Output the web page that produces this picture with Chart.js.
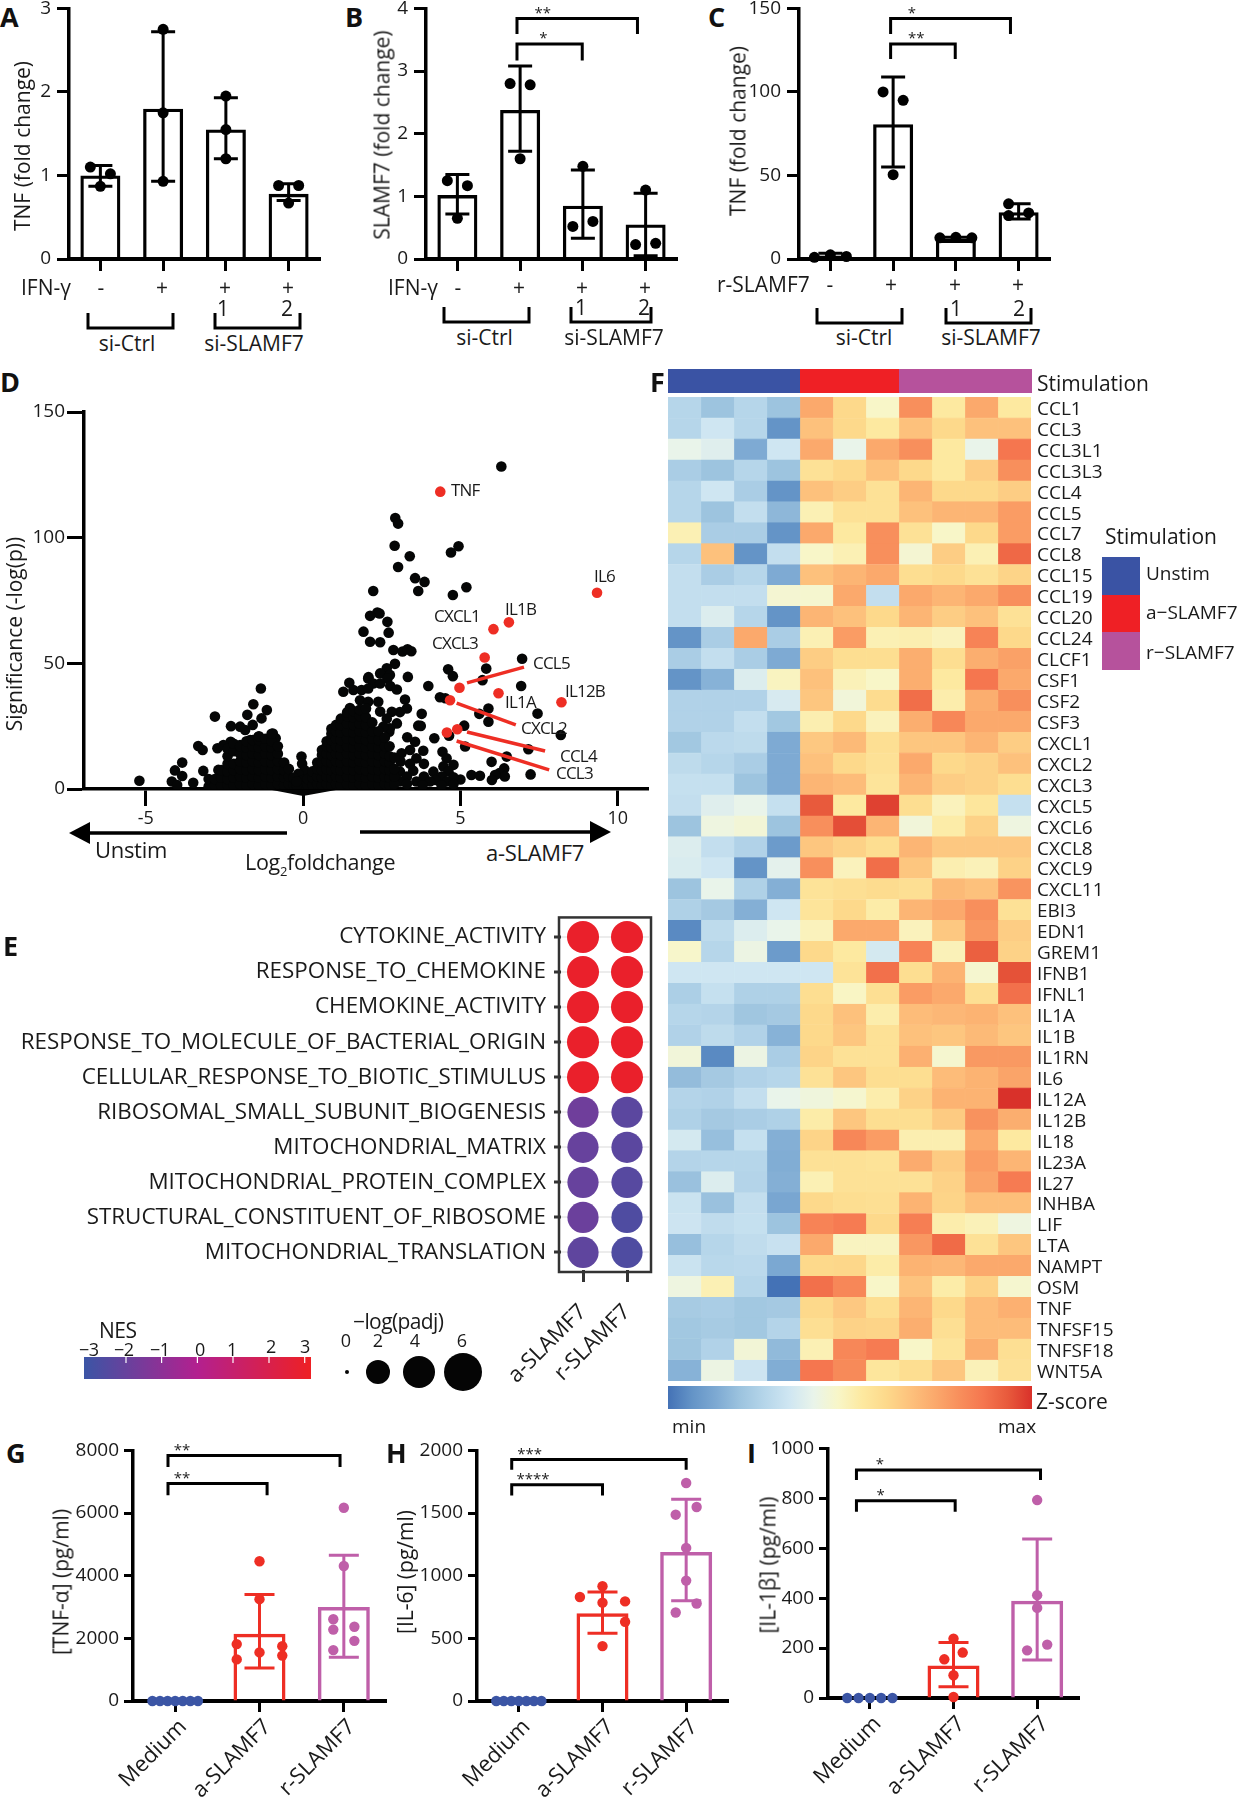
<!DOCTYPE html>
<html><head><meta charset="utf-8">
<script src="https://cdn.jsdelivr.net/npm/chart.js@4"></script>
<style>
html,body{margin:0;padding:0;background:#fff}
#page{position:relative;width:1239px;height:1800px;overflow:hidden;background:#fff}
canvas{position:absolute;display:block}
.t{position:absolute;white-space:nowrap;line-height:1;color:#1a1a1a}
svg{position:absolute;left:0;top:0}
</style></head><body><div id="page"><svg id="deco" width="1239" height="1800"></svg></div>
<script>
/* ---------- panel A ---------- */
const aLabels=['-','+','+1','+2'];
const aBars=[1.0,1.8,1.55,0.78];
const aLow=[0.87,0.93,1.2,0.7];
const aHigh=[1.12,2.72,1.93,0.9];
const aDotX=[-.16,.16,0,1,1,1,2,2,2,2.84,3.16,3];
const aDotY=[1.1,1.02,.87,2.75,1.75,.93,1.95,1.55,1.2,.88,.88,.67];
/* ---------- panel B ---------- */
const bBars=[1.02,2.38,0.85,0.55];
const bLow=[.72,1.72,.33,.05];
const bHigh=[1.35,3.08,1.42,1.05];
const bDotX=[-.16,.16,0,.84,1.16,1,2,1.84,2.16,3,2.84,3.16];
const bDotY=[1.25,1.17,.65,2.8,2.78,1.6,1.48,.52,.6,1.1,.23,.25];
/* ---------- panel C ---------- */
const cBars=[2,80.7,11.5,28];
const cLow=[1,55,11,24];
const cHigh=[3.5,109,13,33];
const cDotX=[-.255,0,.255,.84,1.16,1,1.745,2,2.255,2.84,2.84,3.16];
const cDotY=[1,2.5,1.5,100,95,50.5,12.7,13,12.7,33,26,27.6];
/* ---------- panels G H I ---------- */
const stimLabels=['Medium','a-SLAMF7','r-SLAMF7'];
const gBars=[0,2150,3000];
const gLow=[0,1050,1400];
const gHigh=[0,3400,4650];
const gDotX=[-.27,-.18,-.09,0,.09,.18,.27, 1,1,.73,1.27,1,.73,1.27, 2,2,1.875,1.875,2.125,2.125,1.875];
const gDotY=[0,0,0,0,0,0,0, 4460,3250,1816,1750,1551,1328,1450, 6170,4310,2610,2280,2370,1920,1625];
const hBars=[0,700,1190];
const hLow=[0,540,800];
const hHigh=[0,870,1610];
const hDotX=[-.27,-.18,-.09,0,.09,.18,.27, 1,.73,1.27,1,1.27,1, 2,2.125,1.875,2,2,2.125,1.875];
const hDotY=[0,0,0,0,0,0,0, 916,830,795,785,632,438, 1740,1548,1487,1222,961,778,706];
const iBars=[0,130,390];
const iLow=[0,45,152];
const iHigh=[0,222,637];
const iDotX=[-.27,-.135,0,.135,.27, 1,1.11,.89,1,1, 2,2,2,2.12,1.88];
const iDotY=[0,0,0,0,0, 238,182,155,91,4, 793,412,361,214,191];
/* ---------- panel D ---------- */
const dTicks=[-5,0,5,10];
const dSparse=[[6.3,128.3],[2.93,107.8],[3.02,105.6],[2.91,96.8],[3.39,92.6],[4.94,96.6],[4.7,94.1],[3.02,88.3],[3.56,83.9],[3.86,82.4],[3.66,78.8],[2.23,78.8],[5.19,80.3],[4.76,77.2],[2.36,70.2],[2.43,69.8],[2.13,68.9],[2.68,66.5],[1.92,62.6],[2.72,62.2],[2.13,58.6],[2.45,58.4],[2.87,55.3],[3.16,54.7],[3.32,55.6],[3.44,54.8],[6.96,51.8],[5.82,47.9],[2.92,49.8],[4.61,47.6],[4.76,44.9],[3.33,44.6],[2.66,48],[2.45,46],[2.76,45.4],[2.08,44.5],[1.47,42.3],[3.98,41],[5.7,43.3],[6.93,41],[4.35,36.5],[4.52,36.1],[5.89,32],[5.6,29.9],[5.89,26.8],[7.45,30],[5.12,25.2],[4.64,21.2],[4.17,20.2],[5.15,16.9],[4.43,14.8],[7.16,15.8],[6.47,12.9],[5.99,10.8],[6.39,8.2],[6.24,6.3],[6.41,5],[6.1,5.6],[6,3.6],[7.23,5.8],[5.35,5.6],[5.62,5.3],[5,3.8],[3.77,29.9],[3.66,25.2],[3.74,25.1],[8.19,21.5],
[2.74,22.8],[3.31,20.6],[3.56,18.8],[3.82,15.2],[3.13,14.2],[3.4,15.5],[3.6,12.2],[3.84,10],[3.4,10],[3.1,10.9],[3.5,7.3],[3.08,6.9],[4.14,6.9],[3.84,5],[3.3,5],[4.56,12.2],[4.78,9.6],[4.46,9],[4.62,7],[4.4,5],[4.78,4.7],[4.2,3.6],[4.57,3],[4.03,3],[3.6,3],[3.08,3],[3.3,2],[3.8,1.5],[4.4,1.5],[4.78,2],
[1.28,38.7],[1.6,39.4],[1.86,39.4],[2.07,44],[2.23,42],[2.68,44],[2.77,41],[2.45,42],[2.07,40],[2.98,39.6],[3.24,35.6],[3.3,32],[3.08,30.6],[2.98,26.1],[2.76,24.2],[2.39,34.7],[2.45,30.8],[1.49,32.2],[1.81,35.3],[2.07,34.7],[2.82,30.7],[2.66,28],[2.55,24.8],
[-5.2,3.3],[-4.17,3],[-4.07,7.4],[-3.84,10.5],[-3.84,5.2],[-3.49,2.5],[-4,1.6],[-3.33,17.1],[-3.19,15.5],[-3.17,7.2],[-2.8,28.8],[-2.72,16.2],[-2.69,7.6],[-2.29,25],[-2,24.8],[-1.84,23.5],[-1.77,29.5],[-1.6,25.5],[-1.58,33.7],[-1.32,28.1],[-1.15,31.4],[-1.34,40],[-.96,22.1],[-.87,20.2],[-1.42,20.8],[-1.68,19.5],[-2.3,18.8],[-2.53,17.5],[-2,17.5],
[-.05,12.9],[-.03,10],[.05,7.5],[-.15,6],[0,3.6],[.02,1.5]];
const dDenseColumns=[
[-3,1,4],[-2.8,1.5,4],[-2.6,1.5,4.5,7.5],[-2.4,1.5,4,7,10,13,16],[-2.2,1.5,4.5,7.5,10,15,18],[-2,2,5,8,11,14,17],[-1.8,1.5,4.5,7.5,10.5,13.5,16.5,19],[-1.6,2,5,8,11,14,17,19.5],[-1.4,1.5,4.5,7.5,10.5,13.5,16.5,19.5,21],[-1.2,2,5,8,11,14,17,20],[-1,1.5,4.5,7.5,10.5,13.5,16.5,19,22],[-.8,2,5,8,11,14,17],[-.6,1.5,4.5,7.5,10.5],[-.45,2,5,8],[-.3,1.5,4.5],[-.2,1.5,3],
[.15,1.5,4],[.3,1.5,4.5,7],[.45,2,5,8,10.5],[.6,1.5,4.5,7.5,10.5,13.5,15.5],[.75,2,5,8,11,14,17,19],[.9,1.5,4.5,7.5,10.5,13.5,16.5,19.5,22,24],[1.05,2,5,8,11,14,17,20,23,25.5],[1.2,1.5,4.5,7.5,10.5,13.5,16.5,19.5,22.5,25.5,28],[1.4,2,5,8,11,14,17,20,23,26,29,30.5],[1.6,1.5,4.5,7.5,10.5,13.5,16.5,19.5,22.5,25.5,28.5,31],[1.8,2,5,8,11,14,17,20,23,26,29,31.5],[2,1.5,4.5,7.5,10.5,13.5,16.5,19.5,22.5,25.5,28.5,32],[2.2,2,5,8,11,14,17,20,23,26.5],[2.4,1.5,4.5,7.5,10.5,13.5,16.5,19.5,23],[2.6,2,5,8,11,14,17,20.5],[2.75,1.5,4.5,7.5,10.5,13,17],[2.9,2,5,8,12.5]];
const dRed=[[4.36,118.3],[9.34,78.1],[6.54,66.3],[6.05,63.6],[5.77,52.3],[4.97,40.3],[6.21,38.1],[8.21,34.5],[4.67,35.3],[4.9,23.8],[4.57,22.5]];
const leaderCCL5=[[5.21,42.2],[7.02,48.5]];
const leaderCXCL2=[[4.88,34.2],[6.76,25.5]];
const leaderCCL4=[[5.21,22.7],[7.69,15.1]];
const leaderCCL3=[[4.88,19.1],[7.82,7.6]];
/* ---------- panel E ---------- */
const pathways=['CYTOKINE_ACTIVITY','RESPONSE_TO_CHEMOKINE','CHEMOKINE_ACTIVITY','RESPONSE_TO_MOLECULE_OF_BACTERIAL_ORIGIN','CELLULAR_RESPONSE_TO_BIOTIC_STIMULUS','RIBOSOMAL_SMALL_SUBUNIT_BIOGENESIS','MITOCHONDRIAL_MATRIX','MITOCHONDRIAL_PROTEIN_COMPLEX','STRUCTURAL_CONSTITUENT_OF_RIBOSOME','MITOCHONDRIAL_TRANSLATION'];
const eGroups=['a-SLAMF7','r-SLAMF7'];
const nesA=[2.8,2.8,2.8,2.8,2.8,-1.7,-1.9,-1.9,-1.8,-2.1];
const nesR=[2.8,2.8,2.8,2.8,2.8,-2.2,-2.2,-2.3,-2.5,-2.5];
const padjA=[4,4,4,4,4,3.9,3.9,3.9,3.9,3.9];
const padjR=[4,4,4,4,4,3.9,3.9,3.9,3.9,3.9];
/* ---------- panel F ---------- */
const genes=['CCL1','CCL3','CCL3L1','CCL3L3','CCL4','CCL5','CCL7','CCL8','CCL15','CCL19','CCL20','CCL24','CLCF1','CSF1','CSF2','CSF3','CXCL1','CXCL2','CXCL3','CXCL5','CXCL6','CXCL8','CXCL9','CXCL11','EBI3','EDN1','GREM1','IFNB1','IFNL1','IL1A','IL1B','IL1RN','IL6','IL12A','IL12B','IL18','IL23A','IL27','INHBA','LIF','LTA','NAMPT','OSM','TNF','TNFSF15','TNFSF18','WNT5A'];
const heatZ=[
[4,3,4,3,11,9,7,12,8,11,8],
[4,5,4,1,10,9,8,10,9,10,10],
[6,5.6,2,5,11,6,11,12,8,6,13],
[3.5,3,4,3,8.5,9,10,9,8,9.5,12],
[4,5,3.5,1,10,9.5,8.5,10.5,9,9,9.5],
[4,3,4.5,2.5,7.5,8.5,8.5,10,10.5,10.5,11.5],
[7.5,3.5,3.5,1,11,8,12,8.5,7,9,11.5],
[4,10,1,4.5,7,7.5,12,6.7,9.5,7.5,13.5],
[4.5,3.5,4,2,10,10.5,11,8.7,9,8.5,9.2],
[4.5,4.5,4.5,6.7,6.8,11,4.5,11,10.5,11,12],
[4.5,5.5,4,1,10.5,10,9,10.5,9.5,10,8.5],
[1,3.5,11,3.5,7.5,11.5,7.5,7.6,7.3,12.5,9],
[3.5,4.5,3.5,2,9.5,8.7,8.7,10.8,8.7,10.8,11.3],
[1,2.3,5.5,7.2,10,7.4,7,10.8,8,13,11],
[3.8,3.8,3.8,5.3,9.8,6.5,8.8,13.3,7.7,10.8,12],
[3.8,3.8,4.5,3.2,7.6,9,7.3,10.8,12.3,11,11],
[3.2,4.2,4.3,2,9.7,10.3,8.6,9.8,9.8,10.5,9.5],
[4.3,4,3.5,2,10,9,8.5,11,9,9.3,10],
[4.6,4.6,3,2,10.5,10.2,8.3,10.5,9.5,9.3,8.7],
[4.5,5.6,6,4.6,14,8,14.6,8.7,7.3,8.2,4.6],
[3,6.3,6.6,3,12,14.3,10.5,6.5,7.8,9.3,6.3],
[5.5,4.5,3.8,1.3,9.8,9.3,8.7,10.5,9.7,9.7,9.7],
[5.4,5,1,5.8,12,7.3,13.3,9.8,7.6,7.4,9.3],
[3,6,3.7,2.2,8.4,8.6,8.8,8.6,10.3,10,11.8],
[3.7,3.3,2.2,5,8.3,9,7.8,10.5,11,12,8.5],
[.7,4.3,5.5,6,7.3,11,11,7.3,9.7,11.7,9.5],
[6.9,4,6.2,1.3,9,8,5.2,12.5,7.4,13.8,9.3],
[5,5,5,5,5,8.4,13.2,8.7,10.6,6.8,14.2],
[3.6,4.6,3.7,3.7,8.7,7.1,8.6,11.5,11,8.6,13.2],
[4,3.9,3.1,3.3,9,10,7.7,10.2,10.4,10.6,10],
[3.8,4.3,3.8,2.3,9,9.8,8.5,10,9.8,10.3,9.8],
[6.5,.7,6.2,3.5,9.2,8.5,8.5,10.7,6.8,11.6,11.6],
[2.7,3.3,3.8,4,8.5,9.8,8.7,8.7,10.2,10.6,11.2],
[3.9,3.8,4.5,6,6.4,6.8,7.7,9.3,10.6,10.6,15],
[3.7,3.3,3.5,3.7,7.8,9.8,8.7,8.7,9.6,11.9,10.8],
[5.2,2.8,4.6,2.2,9.2,12.3,11.5,7.6,7.6,11,8],
[3.9,4,4,2.1,8.5,8.5,8.4,10.9,9.6,11.5,10.5],
[2.9,5.5,3.9,2.2,7.5,8.5,8.5,8.5,9.3,11.2,12.8],
[4.8,2.9,4.5,1.8,9,8.7,8.6,10.6,9.2,10.1,10.1],
[4.9,4.4,4.6,3,12.5,12.8,9,12.7,7.7,7.4,6.3],
[2.8,4,4.4,4.7,11,7.2,7.2,11.7,13.4,8.5,9.8],
[4.8,4.1,4.2,1.9,9,9.1,7.8,10.6,10.4,11,11],
[6.3,7.5,4,0,13.2,12.3,7,9.9,7.8,9.3,6.8],
[3.4,3.5,3.2,3.3,9,9.7,8.7,10.5,9,10.2,10.7],
[3.2,3.4,3.2,3.9,8.6,9.3,9.2,10.8,8.6,10.2,10.2],
[3.1,3.8,6.6,2.6,7.5,12.3,12.8,7,8.3,10.8,8.6],
[2.3,6.2,4.9,2.1,13,12.2,8.2,8.7,9.8,7.4,8.5]];
const zStops=['#4472b6','#6494c7','#7eaad3','#9dc4df','#b6d6ea','#cfe6f2','#e9f4ea','#f8f6c8','#fde9a0','#fdd98b','#fdc17c','#fba96c','#f88f5c','#f5764f','#e85a3c','#d9312a'];
const nesStops=['#3b55a5','#b3208f','#ee2024'];

/* ---------- helpers ---------- */
const FONT="'Open Sans'";
const NARROW="'Liberation Sans Narrow','Open Sans'";
const page=document.getElementById('page'),deco=document.getElementById('deco');
function hex(h){return [1,3,5].map(i=>parseInt(h.substr(i,2),16));}
function ramp(stops,t){const n=stops.length-1;t=Math.max(0,Math.min(n,t));const i=Math.min(n-1,Math.floor(t)),f=t-i,a=hex(stops[i]),b=hex(stops[i+1]);return 'rgb('+a.map((v,k)=>Math.round(v+(b[k]-v)*f)).join(',')+')';}
function txt(s,x,y,o={}){const d=document.createElement('div');d.className='t';d.innerHTML=s;
 d.style.cssText+=`left:${x}px;top:${y}px;font-family:${o.font||FONT};font-size:${o.size||20}px;font-weight:${o.bold?700:400};letter-spacing:${o.ls||0}px;transform:translate(${o.anchor==='c'?'-50%':o.anchor==='e'?'-100%':'0'},-50%) rotate(${o.rot||0}deg);color:${o.color||'#1a1a1a'}`;
 page.appendChild(d);return d;}
function vtxt(s,x,y,o={}){const d=txt(s,x,y,o);d.style.transform='translate(-50%,-50%) rotate(-90deg)';return d;}
function svgEl(n,a){const e=document.createElementNS('http://www.w3.org/2000/svg',n);for(const k in a)e.setAttribute(k,a[k]);deco.appendChild(e);return e;}
function uBracket(x1,x2,y1,y2){svgEl('path',{d:`M${x1} ${y1}V${y2}H${x2}V${y1}`,fill:'none',stroke:'#000','stroke-width':3});}
function mkCanvas(l,t,r,b,ml,mt,mr,mb,ls){const c=document.createElement('canvas');c.width=r-l+ml+mr;c.height=b-t+mt+mb;c.style.left=(l-ml)+'px';c.style.top=(t-mt)+'px';page.appendChild(c);const ctx=c.getContext('2d');if(ls)ctx.letterSpacing=ls;return ctx;}
Chart.defaults.animation=false;Chart.defaults.responsive=false;Chart.defaults.font.family=FONT;Chart.defaults.color='#1a1a1a';
Chart.defaults.plugins.legend.display=false;Chart.defaults.plugins.tooltip.enabled=false;

Chart.register({id:'errBars',afterDatasetDraw(c,args,o){
  if(!o.low||args.index!==0)return;const x=c.scales.x,y=c.scales.y,ctx=c.ctx;ctx.save();ctx.lineWidth=o.width;
  c.data.labels.forEach((l,i)=>{if(o.high[i]===o.low[i])return;const px=x.getPixelForValue(i),a=y.getPixelForValue(o.low[i]),b=y.getPixelForValue(o.high[i]);
    ctx.strokeStyle=o.colors[i];ctx.beginPath();ctx.moveTo(px,a);ctx.lineTo(px,b);ctx.moveTo(px-o.cap,a);ctx.lineTo(px+o.cap,a);ctx.moveTo(px-o.cap,b);ctx.lineTo(px+o.cap,b);ctx.stroke();});
  ctx.restore();}});
Chart.register({id:'sigBrackets',afterDraw(c,args,o){
  if(!o.items)return;const x=c.scales.xp,y=c.scales.y,ctx=c.ctx;ctx.save();ctx.strokeStyle='#000';ctx.lineWidth=o.width||3;ctx.fillStyle='#222';ctx.font=`15px ${FONT}`;ctx.textAlign='center';ctx.textBaseline='middle';
  o.items.forEach(s=>{const a=x.getPixelForValue(s.from),b=x.getPixelForValue(s.to),t=y.getPixelForValue(s.y),d=y.getPixelForValue(s.drop);
   ctx.beginPath();ctx.moveTo(a,d);ctx.lineTo(a,t);ctx.lineTo(b,t);ctx.lineTo(b,d);ctx.stroke();ctx.fillText(s.stars,x.getPixelForValue(s.at),t-5);});
  ctx.restore();}});
Chart.register({id:'frame',afterDraw(c,args,o){if(!o.color)return;const a=c.chartArea,ctx=c.ctx;ctx.save();ctx.strokeStyle=o.color;ctx.lineWidth=o.width;ctx.strokeRect(a.left-o.out,a.top-o.out,a.right-a.left+2*o.out,a.bottom-a.top+2*o.out);ctx.restore();}});

function barPanel(g){
  const n=g.labels.length,ml=g.ml,mb=g.mb,mt=16,mr=6;
  const ctx=mkCanvas(g.l,g.t,g.r,g.b,ml,mt,mr,mb,g.ls);
  new Chart(ctx,{type:'bar',data:{labels:g.labels,datasets:[
    {data:g.bars,backgroundColor:'transparent',borderColor:g.colors,borderWidth:g.bw,grouped:false,barPercentage:g.barW/((g.r-g.l)/n),categoryPercentage:1,borderSkipped:'bottom',order:2},
    {type:'scatter',xAxisID:'xp',yAxisID:'y',data:g.dotX.map((v,i)=>({x:v,y:g.dotY[i]})),pointRadius:g.dot,pointBackgroundColor:g.dotColors,pointBorderWidth:0,clip:false,order:1}]},
   options:{layout:{autoPadding:false,padding:{top:mt,right:mr,left:0,bottom:0}},
    scales:{
     x:{offset:true,grid:{offset:false,drawOnChartArea:false,tickLength:g.xTick,tickWidth:3,tickColor:'#000'},border:{color:'#000',width:4},
        ticks:g.showLabels?{display:true,autoSkip:false,minRotation:45,maxRotation:45,font:{size:22},padding:2,labelOffset:8,color:'#1a1a1a'}:{display:false},
        afterFit:s=>{s.height=mb;}},
     xp:{type:'linear',display:false,offset:false,min:-.5,max:n-.5},
     y:{min:g.min,max:g.max,ticks:{stepSize:g.step,font:{size:19},padding:g.pad,color:'#1a1a1a',callback:v=>String(v)},grid:{drawOnChartArea:false,tickLength:g.yTick,tickWidth:3,tickColor:'#000'},border:{color:'#000',width:3.5},afterFit:s=>{s.width=ml;}}},
    plugins:{errBars:{low:g.low,high:g.high,colors:g.colors,cap:g.cap,width:3},sigBrackets:{items:g.sig}}}});
}
const K='#000',BL='#3b55a5',RD='#ee2e24',PU='#bf5fa9';
const rep=(c,k)=>Array(k).fill(c);
barPanel({labels:aLabels,l:69,t:7,r:320,b:259,ml:34,mb:20,bars:aBars,low:aLow,high:aHigh,dotX:aDotX,dotY:aDotY,colors:rep(K,4),dotColors:K,dot:5.5,bw:3.3,barW:40,min:0,max:3,step:1,xTick:12,yTick:12,pad:6,cap:12,sig:null,ls:'-0.5px'});
barPanel({labels:aLabels,l:426,t:7,r:677,b:259,ml:34,mb:20,bars:bBars,low:bLow,high:bHigh,dotX:bDotX,dotY:bDotY,colors:rep(K,4),dotColors:K,dot:5.5,bw:3.3,barW:40,min:0,max:4,step:1,xTick:12,yTick:12,pad:6,cap:12,ls:'-0.5px',
 sig:[{from:.95,to:2.87,y:3.84,drop:3.59,stars:'**',at:1.36},{from:.95,to:1.99,y:3.43,drop:3.17,stars:'*',at:1.37}]});
barPanel({labels:aLabels,l:799,t:7,r:1050,b:259,ml:56,mb:20,bars:cBars,low:cLow,high:cHigh,dotX:cDotX,dotY:cDotY,colors:rep(K,4),dotColors:K,dot:5.5,bw:3.3,barW:40,min:0,max:150,step:50,xTick:12,yTick:12,pad:6,cap:12,ls:'-0.5px',
 sig:[{from:.96,to:2.87,y:144,drop:134.7,stars:'*',at:1.3},{from:.96,to:1.99,y:128.7,drop:119.7,stars:'**',at:1.37}]});
const stimCols=[BL,RD,PU];
barPanel({labels:stimLabels,l:133,t:1450,r:386,b:1701,ml:62,mb:99,bars:gBars,low:gLow,high:gHigh,dotX:gDotX,dotY:gDotY,colors:stimCols,dotColors:[...rep(BL,7),...rep(RD,7),...rep(PU,7)],dot:5.2,bw:3.5,barW:52,min:0,max:8000,step:2000,xTick:11,yTick:9,pad:5,cap:15,showLabels:true,ls:'-0.6px',
 sig:[{from:-.085,to:1.955,y:7840,drop:7470,stars:'**',at:.08},{from:-.085,to:1.09,y:6940,drop:6570,stars:'**',at:.08}]});
barPanel({labels:stimLabels,l:477,t:1450,r:728,b:1701,ml:62,mb:99,bars:hBars,low:hLow,high:hHigh,dotX:hDotX,dotY:hDotY,colors:stimCols,dotColors:[...rep(BL,7),...rep(RD,6),...rep(PU,7)],dot:5.2,bw:3.5,barW:52,min:0,max:2000,step:500,xTick:11,yTick:9,pad:5,cap:15,showLabels:true,ls:'-0.6px',
 sig:[{from:-.085,to:2,y:1928,drop:1846,stars:'***',at:.13},{from:-.085,to:1,y:1726,drop:1641,stars:'****',at:.17}]});
barPanel({labels:stimLabels,l:828,t:1448,r:1079,b:1698,ml:62,mb:99,bars:iBars,low:iLow,high:iHigh,dotX:iDotX,dotY:iDotY,colors:stimCols,dotColors:[...rep(BL,5),...rep(RD,5),...rep(PU,5)],dot:5.2,bw:3.5,barW:52,min:0,max:1000,step:200,xTick:11,yTick:9,pad:5,cap:15,showLabels:true,ls:'-0.6px',
 sig:[{from:-.16,to:2.04,y:913,drop:873,stars:'*',at:.12},{from:-.16,to:1.02,y:790,drop:746,stars:'*',at:.13}]});

/* D volcano */
(function(){
 const l=84,t=412,r=648,b=789,ml=52,mb=48;
 const ctx=mkCanvas(l,t,r,b,ml,16,6,mb,'-1px');
 const black=dSparse.map(p=>({x:p[0],y:p[1]}));
 dDenseColumns.forEach(c=>{c.slice(1).forEach(y=>black.push({x:c[0],y}));});
 const toXY=a=>a.map(p=>({x:p[0],y:p[1]}));
 const leader=a=>({data:toXY(a),showLine:true,borderColor:RD,borderWidth:3.5,pointRadius:0,order:1});
 new Chart(ctx,{type:'scatter',data:{datasets:[
   {data:toXY(dRed),pointRadius:5.3,pointBackgroundColor:'#ee2e24',pointBorderWidth:0,order:0},
   leader(leaderCCL5),leader(leaderCXCL2),leader(leaderCCL4),leader(leaderCCL3),
   {data:black,pointRadius:5.3,pointBackgroundColor:'#050606',pointBorderWidth:0,order:2}]},
  options:{layout:{autoPadding:false,padding:{top:16,right:6,left:0,bottom:0}},
   scales:{x:{type:'linear',min:-6.96,max:10.96,afterBuildTicks:s=>{s.ticks=dTicks.map(v=>({value:v}));},
       grid:{drawOnChartArea:false,tickLength:17,tickWidth:3,tickColor:'#000'},border:{color:'#000',width:3.5},ticks:{font:{size:18},padding:2,color:'#1a1a1a',maxRotation:0},afterFit:s=>{s.height=mb;}},
     y:{min:0,max:150,ticks:{stepSize:50,font:{size:19},padding:2,color:'#1a1a1a'},grid:{drawOnChartArea:false,tickLength:17,tickWidth:3,tickColor:'#000'},border:{color:'#000',width:3.5},afterFit:s=>{s.width=ml;}}}}});
})();

/* E bubbles */
(function(){
 const l=561,t=918,r=649,b=1270,ml=545,mb=120,mt=20,mr=24;
 const ctx=mkCanvas(l,t,r,b,ml,mt,mr,mb);
 const pts=(nes,padj,gi)=>nes.map((n,i)=>({x:eGroups[gi],y:pathways[i],r:padj[i]*4}));
 const cols=nes=>nes.map(n=>ramp(nesStops,(n+3)/3));
 new Chart(ctx,{type:'bubble',data:{datasets:[
   {data:pts(nesA,padjA,0),backgroundColor:cols(nesA),borderWidth:0},
   {data:pts(nesR,padjR,1),backgroundColor:cols(nesR),borderWidth:0}]},
  options:{layout:{autoPadding:false,padding:{top:mt,right:mr,left:0,bottom:0}},
   scales:{x:{type:'category',labels:eGroups,offset:true,grid:{offset:false,drawOnChartArea:false,tickLength:12,tickWidth:3,tickColor:'#333'},border:{display:false},
      ticks:{autoSkip:false,minRotation:45,maxRotation:45,font:{size:22},padding:17,labelOffset:0,color:'#1a1a1a'},afterFit:s=>{s.height=mb;}},
     y:{type:'category',labels:pathways,offset:true,grid:{offset:false,color:'#ececec',lineWidth:2,tickLength:7,tickWidth:3,tickColor:'#333'},border:{display:false},
      ticks:{autoSkip:false,font:{family:NARROW,size:22.4},padding:8,color:'#1a1a1a'},afterFit:s=>{s.width=ml;}}},
   plugins:{frame:{color:'#333',width:2.5,out:2}}}});
})();

/* F heatmap */
(function(){
 const l=668,t=397,r=1031,b=1381,mr=110,mv=14;
 const ctx=mkCanvas(l,t,r,b,2,mv,mr,mv);
 const ds=heatZ[0].map((_,c)=>{const col=heatZ.map(row=>ramp(zStops,row[c]));return {data:genes.map(()=>1),backgroundColor:col,borderColor:col,borderWidth:.6,borderSkipped:false,barPercentage:1,categoryPercentage:1,stack:'s'};});
 new Chart(ctx,{type:'bar',data:{labels:genes,datasets:ds},options:{indexAxis:'y',layout:{autoPadding:false,padding:{top:mv,left:2,right:0,bottom:mv}},
   scales:{x:{type:'linear',stacked:true,display:false,min:0,max:11},
     y:{position:'right',stacked:true,grid:{display:false},border:{display:false},ticks:{autoSkip:false,font:{size:19},padding:-2,labelOffset:2,color:'#1a1a1a'},afterFit:s=>{s.width=mr;}}}}});
})();

/* ---------- text and decoration around the charts ---------- */
const L={size:27,bold:true,color:'#111'};
[['A',0,16],['B',345,16],['C',708,16],['D',0,381],['E',3,945],['F',650,381],['G',6,1452],['H',386,1452],['I',747,1452]].forEach(a=>txt(a[0],a[1],a[2],L));
vtxt('TNF (fold change)',22,146,{size:21});
vtxt('SLAMF7 (fold change)',382,135,{size:21});
vtxt('TNF (fold change)',738,131,{size:21});
vtxt('[TNF-α] (pg/ml)',61,1582,{size:21});
vtxt('[IL-6] (pg/ml)',405,1572,{size:21});
vtxt('[IL-1β] (pg/ml)',768,1565,{size:21});
vtxt('Significance (-log(p))',14,634,{size:21});
const S={size:21,anchor:'c'};
txt('IFN-γ',21,287,{size:21});txt('IFN-γ',388,287,{size:21});txt('r-SLAMF7',717,284,{size:21});
[[101,287,'-'],[162,287,'+'],[225,287,'+'],[288,287,'+'],[458,287,'-'],[519,287,'+'],[582,287,'+'],[645,287,'+'],[830,284,'-'],[891,284,'+'],[955,284,'+'],[1018,284,'+'],
 [223,308,'1'],[287,308,'2'],[581,307,'1'],[644,307,'2'],[956,308,'1'],[1019,308,'2'],
 [127,343,'si-Ctrl'],[254,343,'si-SLAMF7'],[484.5,337,'si-Ctrl'],[614,337,'si-SLAMF7'],[864,337,'si-Ctrl'],[991,337,'si-SLAMF7']].forEach(a=>txt(a[2],a[0],a[1],S));
uBracket(88,173,313,328);uBracket(215,300,313,328);uBracket(444,529,307,322);uBracket(571,651,307,322);uBracket(817,902,308,323);uBracket(946,1031,308,323);
/* D annotations */
const DL={size:17,ls:-.8};
[['TNF',451,489],['IL6',594,575],['IL1B',505,608],['CXCL1',434,615],['CXCL3',432,642],['CCL5',533,662],['IL12B',565,690],['IL1A',505,701],['CXCL2',521,727],['CCL4',560,755],['CCL3',556,772]].forEach(a=>txt(a[0],a[1],a[2],DL));
txt('Unstim',95,849,{size:22,ls:-.3});txt('a-SLAMF7',486,852,{size:22,ls:-.3});
txt('Log<sub style="font-size:13px;line-height:0">2</sub>foldchange',245,862,{size:21.5,ls:-.3});
svgEl('path',{d:'M287 833H80',stroke:'#000','stroke-width':3.5,fill:'none'});
svgEl('path',{d:'M69 833L90 822V844Z',fill:'#000'});
svgEl('path',{d:'M360 832H600',stroke:'#000','stroke-width':3.5,fill:'none'});
svgEl('path',{d:'M611 832L590 821V843Z',fill:'#000'});
svgEl('path',{d:'M272 790L303 796L336 790Z',fill:'#050606'});
/* E legends */
txt('NES',99,1330,{size:21,ls:-.5});
[['−3',79,1349],['−2',114,1349],['−1',150,1349],['0',195,1349],['1',227,1349],['2',266,1346],['3',300,1346]].forEach(a=>txt(a[0],a[1],a[2],{size:18,ls:-.5}));
function gradBar(x,y,w,h,stops){const d=document.createElement('div');d.style.cssText=`position:absolute;left:${x}px;top:${y}px;width:${w}px;height:${h}px;background:linear-gradient(to right,${stops.join(',')})`;page.appendChild(d);}
gradBar(84,1357,227,22,nesStops);
deco.style.zIndex=5;
[126,161.6,197.4,233,269,304.7].forEach(x=>svgEl('path',{d:`M${x} 1357V1363`,stroke:'#fff','stroke-width':1.2}));
txt('−log(padj)',353,1321,{size:21,ls:-.6});
[['0',346],['2',378],['4',415],['6',462]].forEach(a=>txt(a[0],a[1],1340,{size:18,anchor:'c'}));
[[347,2],[378,12],[419,16],[463,19]].forEach(a=>{const d=document.createElement('div');d.style.cssText=`position:absolute;left:${a[0]-a[1]}px;top:${1372-a[1]}px;width:${2*a[1]}px;height:${2*a[1]}px;border-radius:50%;background:#050505`;page.appendChild(d);});
/* F extras */
function box(x,y,w,h,c){const d=document.createElement('div');d.style.cssText=`position:absolute;left:${x}px;top:${y}px;width:${w}px;height:${h}px;background:${c}`;page.appendChild(d);}
box(668,369,132,24,'#3a53a4');box(800,369,99,24,'#ef2025');box(899,369,132.5,24,'#b6529c');
txt('Stimulation',1037,383,{size:21});
txt('Stimulation',1105,536,{size:21});
box(1102,557,38,37.5,'#3a53a4');box(1102,594.5,38,37.5,'#ef2025');box(1102,632,38,38,'#b6529c');
txt('Unstim',1146,573,{size:19});txt('a−SLAMF7',1146,612,{size:19});txt('r−SLAMF7',1146,652,{size:19});
gradBar(668,1386,363.5,23,zStops);
txt('Z-score',1036,1401,{size:21});
txt('min',672,1426,{size:19});txt('max',998,1426,{size:19});
</script></body></html>
